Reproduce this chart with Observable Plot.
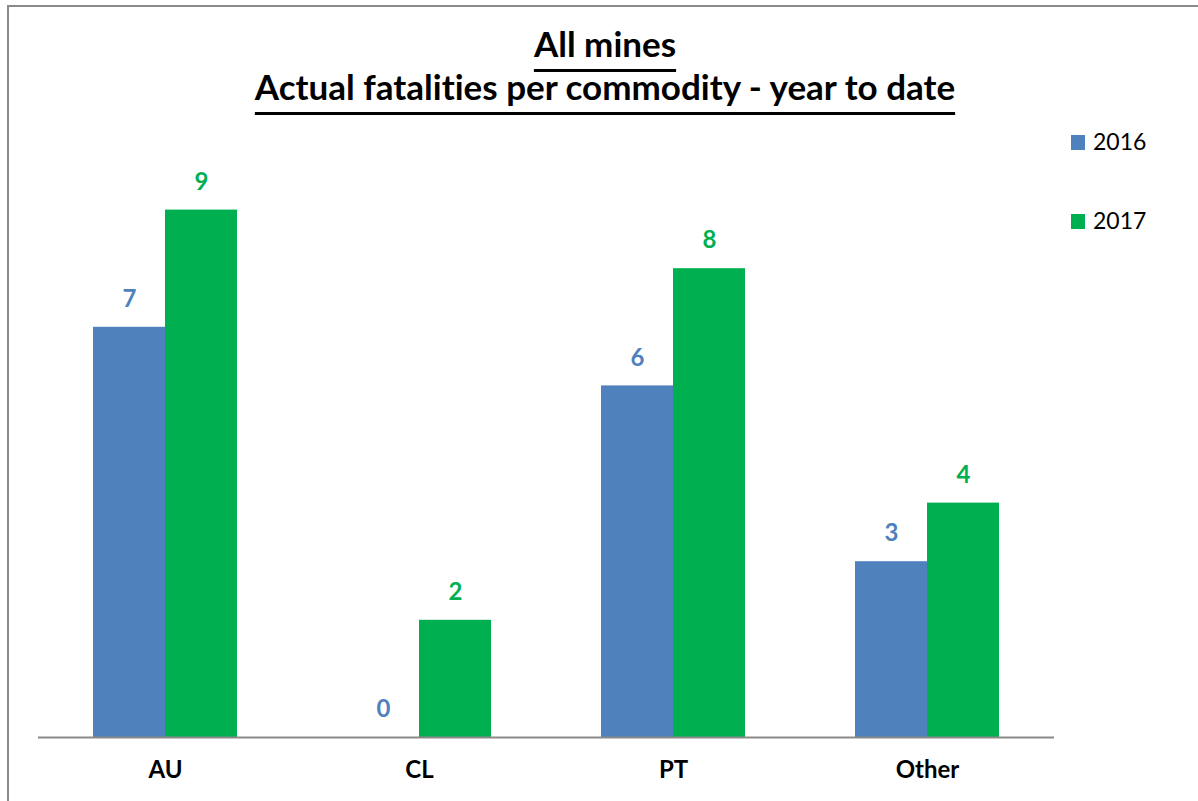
<!DOCTYPE html>
<html>
<head>
<meta charset="utf-8">
<script src="https://cdn.jsdelivr.net/npm/d3@7"></script>
<script src="https://cdn.jsdelivr.net/npm/@observablehq/plot@0.6"></script>
<style>
  html, body { margin: 0; padding: 0; background: #fff; overflow: hidden; }
  body { width: 1198px; height: 801px; position: relative; font-family: Lato, "Open Sans", sans-serif; font-variant-ligatures: none; }
  #frame { position: absolute; left: 7px; top: 5px; width: 1400px; height: 1000px;
           border-left: 2px solid #8a8a8a; border-top: 2px solid #8a8a8a; box-sizing: border-box; }
  #title { position: absolute; left: 0; top: 22px; width: 1210px; text-align: center;
           font-size: 35px; font-weight: bold; line-height: 43px; color: #000;
           text-decoration: underline; text-decoration-thickness: 2.5px; text-underline-offset: 12px; }
  #chart { position: absolute; left: 0; top: 120px; }
  #legend { position: absolute; left: 1071px; top: 0; }
  .item { position: absolute; left: 0; white-space: nowrap; font-size: 23px; line-height: 23px; color: #000; }
  .sw { position: absolute; left: 0; width: 14px; height: 15px; }
  .lab { position: absolute; left: 22px; }
  g[aria-label="fx-axis tick label"] text { font-weight: bold; }
  svg text { font-variant-ligatures: none; }
</style>
</head>
<body>
<div id="frame"></div>
<div id="title"><div>All mines</div><div>Actual fatalities per commodity - year to date</div></div>
<div id="chart"></div>
<div id="legend"></div>
<script>
const categories = ["AU", "CL", "PT", "Other"];
const years = ["2016", "2017"];
const values2016 = [7, 0, 6, 3];
const values2017 = [9, 2, 8, 4];
const colors = ["#4F81BD", "#00B050"];

const data = [];
categories.forEach((c, i) => {
  data.push({category: c, year: years[0], value: values2016[i]});
  data.push({category: c, year: years[1], value: values2017[i]});
});

const plot = Plot.plot({
  width: 1198,
  height: 681,
  marginLeft: 37,
  marginRight: 143,
  marginTop: 31,
  marginBottom: 64,
  style: {fontFamily: "Lato, 'Open Sans', sans-serif", background: "transparent", overflow: "visible"},
  fx: {domain: categories, padding: 0, label: null},
  x: {domain: years, paddingInner: 0, paddingOuter: 0.743, axis: null},
  y: {domain: [0, 10], axis: null},
  color: {domain: years, range: colors},
  marks: [
    Plot.barY(data, {fx: "category", x: "year", y: "value", fill: "year"}),
    Plot.text(data, {fx: "category", x: "year", y: "value", text: d => String(d.value),
      fill: "year", dy: -28, fontSize: 24, fontWeight: "bold"}),
    Plot.ruleY([0], {stroke: "#8a8a8a", strokeWidth: 2}),
    Plot.axisFx({anchor: "bottom", tickSize: 0, tickPadding: 23, fontSize: 24, fontWeight: "bold", label: null, fill: "#000"})
  ]
});
document.getElementById("chart").appendChild(plot);

const legend = document.getElementById("legend");
const legendTops = [135, 214];
years.forEach((y, i) => {
  const item = document.createElement("div");
  item.className = "item";
  item.style.top = (legendTops[i] - 5) + "px";
  item.innerHTML = `<span class="sw" style="background:${colors[i]};top:5px"></span><span class="lab">${y}</span>`;
  legend.appendChild(item);
});
</script>
</body>
</html>
